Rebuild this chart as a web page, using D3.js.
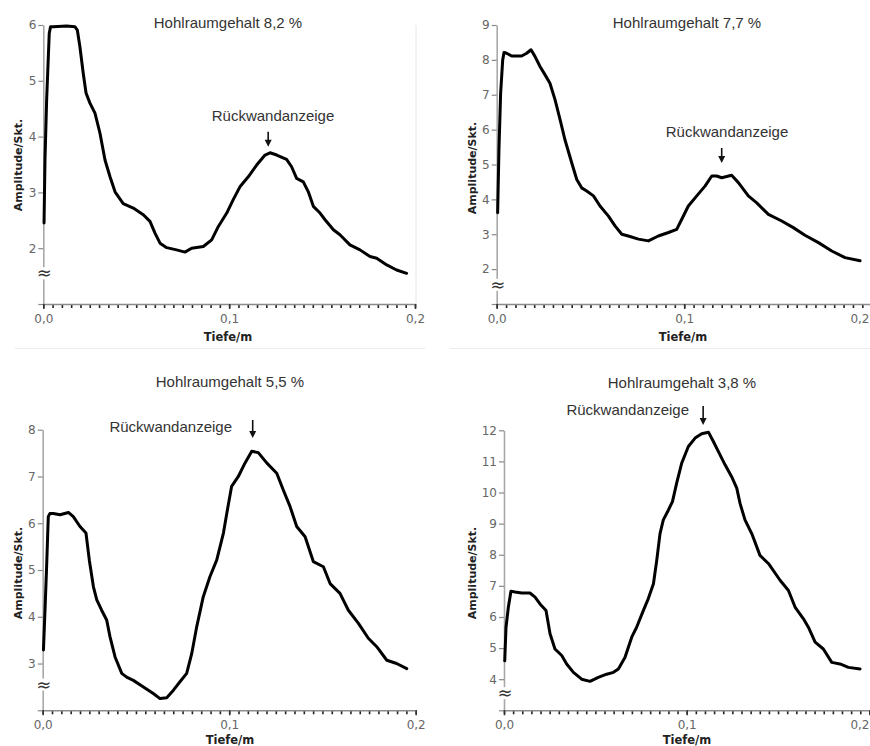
<!DOCTYPE html>
<html>
<head>
<meta charset="utf-8">
<script src="https://cdn.jsdelivr.net/npm/d3@7"></script>
<style>
  body { margin: 0; background: #fff; }
  svg { display: block; }
</style>
</head>
<body>
<script>
var depth1 = [0.0004, 0.0009, 0.0018, 0.0032, 0.0039, 0.0054, 0.0126, 0.0170, 0.0183, 0.0197, 0.0215, 0.0230, 0.0251, 0.0278, 0.0305, 0.0332, 0.0359, 0.0386, 0.0430, 0.0484, 0.0538, 0.0574, 0.0601, 0.0628, 0.0664, 0.0717, 0.0762, 0.0798, 0.0861, 0.0906, 0.0942, 0.0987, 0.1022, 0.1058, 0.1103, 0.1148, 0.1193, 0.1220, 0.1256, 0.1309, 0.1336, 0.1363, 0.1399, 0.1426, 0.1453, 0.1489, 0.1516, 0.1561, 0.1596, 0.1650, 0.1704, 0.1758, 0.1794, 0.1848, 0.1901, 0.1955]
var amp1 = [2.45, 3.58, 4.66, 5.85, 5.97, 5.97, 5.98, 5.97, 5.91, 5.61, 5.13, 4.78, 4.60, 4.42, 4.06, 3.58, 3.28, 3.01, 2.80, 2.72, 2.60, 2.48, 2.27, 2.09, 2.01, 1.97, 1.93, 2.00, 2.03, 2.15, 2.39, 2.63, 2.87, 3.10, 3.28, 3.49, 3.67, 3.71, 3.67, 3.59, 3.46, 3.25, 3.19, 3.01, 2.75, 2.63, 2.51, 2.33, 2.24, 2.06, 1.97, 1.85, 1.82, 1.70, 1.61, 1.55]

var depth2 = [0.0005, 0.0012, 0.0021, 0.0032, 0.0039, 0.0053, 0.0080, 0.0133, 0.0160, 0.0183, 0.0204, 0.0231, 0.0258, 0.0284, 0.0311, 0.0338, 0.0364, 0.0400, 0.0427, 0.0453, 0.0480, 0.0516, 0.0551, 0.0596, 0.0631, 0.0667, 0.0702, 0.0756, 0.0809, 0.0862, 0.0916, 0.0960, 0.0987, 0.1022, 0.1067, 0.1111, 0.1147, 0.1173, 0.1200, 0.1253, 0.1289, 0.1342, 0.1387, 0.1449, 0.1520, 0.1582, 0.1644, 0.1716, 0.1787, 0.1858, 0.1938]
var amp2 = [3.62, 5.43, 7.05, 8.00, 8.21, 8.19, 8.11, 8.11, 8.19, 8.29, 8.10, 7.81, 7.57, 7.33, 6.86, 6.29, 5.71, 5.05, 4.57, 4.33, 4.24, 4.10, 3.81, 3.52, 3.24, 3.00, 2.95, 2.86, 2.81, 2.95, 3.05, 3.14, 3.43, 3.81, 4.10, 4.38, 4.67, 4.67, 4.62, 4.69, 4.48, 4.10, 3.90, 3.57, 3.38, 3.19, 2.97, 2.76, 2.52, 2.33, 2.24]

var depth3 = [0.0004, 0.0013, 0.0021, 0.0030, 0.0039, 0.0057, 0.0093, 0.0138, 0.0164, 0.0200, 0.0232, 0.0250, 0.0272, 0.0290, 0.0316, 0.0343, 0.0361, 0.0388, 0.0424, 0.0450, 0.0486, 0.0540, 0.0593, 0.0629, 0.0665, 0.0701, 0.0736, 0.0772, 0.0799, 0.0826, 0.0861, 0.0897, 0.0933, 0.0969, 0.0987, 0.1013, 0.1049, 0.1085, 0.1121, 0.1156, 0.1201, 0.1255, 0.1290, 0.1326, 0.1362, 0.1407, 0.1451, 0.1505, 0.1541, 0.1594, 0.1639, 0.1693, 0.1746, 0.1791, 0.1845, 0.1898, 0.1952]
var amp3 = [3.29, 4.21, 5.07, 6.14, 6.21, 6.21, 6.18, 6.23, 6.14, 5.93, 5.79, 5.21, 4.64, 4.36, 4.14, 3.93, 3.57, 3.14, 2.79, 2.71, 2.64, 2.50, 2.36, 2.25, 2.27, 2.43, 2.61, 2.79, 3.21, 3.79, 4.43, 4.86, 5.21, 5.79, 6.21, 6.79, 7.00, 7.29, 7.54, 7.51, 7.29, 7.07, 6.71, 6.36, 5.93, 5.71, 5.18, 5.07, 4.71, 4.50, 4.14, 3.86, 3.54, 3.36, 3.07, 3.00, 2.89]

var depth4 = [0.0004, 0.0011, 0.0024, 0.0038, 0.0060, 0.0097, 0.0142, 0.0170, 0.0197, 0.0230, 0.0252, 0.0279, 0.0316, 0.0343, 0.0380, 0.0425, 0.0471, 0.0516, 0.0562, 0.0599, 0.0626, 0.0662, 0.0699, 0.0726, 0.0763, 0.0790, 0.0818, 0.0836, 0.0854, 0.0872, 0.0900, 0.0922, 0.0945, 0.0973, 0.1009, 0.1046, 0.1082, 0.1119, 0.1146, 0.1173, 0.1210, 0.1246, 0.1274, 0.1292, 0.1319, 0.1356, 0.1401, 0.1447, 0.1511, 0.1557, 0.1593, 0.1639, 0.1666, 0.1703, 0.1748, 0.1794, 0.1839, 0.1885, 0.1949]
var amp4 = [4.59, 5.67, 6.32, 6.83, 6.80, 6.77, 6.77, 6.64, 6.42, 6.21, 5.46, 4.97, 4.76, 4.49, 4.22, 4.00, 3.93, 4.06, 4.16, 4.22, 4.33, 4.70, 5.35, 5.67, 6.21, 6.59, 7.07, 7.82, 8.68, 9.12, 9.44, 9.71, 10.30, 10.95, 11.48, 11.75, 11.89, 11.94, 11.64, 11.32, 10.89, 10.51, 10.14, 9.65, 9.12, 8.68, 7.98, 7.72, 7.18, 6.85, 6.32, 5.94, 5.67, 5.19, 4.97, 4.54, 4.49, 4.38, 4.33]

var titles = ["Hohlraumgehalt 8,2 %", "Hohlraumgehalt 7,7 %", "Hohlraumgehalt 5,5 %", "Hohlraumgehalt 3,8 %"]
var yDomains = [[1, 6], [1, 9], [2, 8], [3, 12]]
var xTicks = [0, 0.1, 0.2]
var arrowDepth = [0.121, 0.120, 0.1126, 0.109]
var peakLabel = "Rückwandanzeige"
var xLabel = "Tiefe/m"
var yLabel = "Amplitude/Skt."

var series = [
  { depth: depth1, amp: amp1 },
  { depth: depth2, amp: amp2 },
  { depth: depth3, amp: amp3 },
  { depth: depth4, amp: amp4 }
]

// Lage der Teilbilder (Pixel)
var layout = [
  { x0: 43.3, x1: 415.0, yb: 304, yt: 25, title: [228, 27.7], note: [273, 120.7, "middle"], arrow: [131.7, 146.7], yLab: [22, 165], xLab: [228, 341] },
  { x0: 496.7, x1: 871.7, yb: 304, yt: 25, title: [687, 28], note: [727, 137, "middle"], arrow: [148, 163], yLab: [476, 168], xLab: [683, 341] },
  { x0: 42.7, x1: 415.7, yb: 710.3, yt: 429.7, title: [230, 387], note: [232, 432, "end"], arrow: [420, 438], yLab: [22, 573], xLab: [230, 744] },
  { x0: 504, x1: 869.4, yb: 710.3, yt: 430.3, title: [682, 387.5], note: [689, 415, "end"], arrow: [406, 425], yLab: [476, 573], xLab: [687, 744] }
]

var width = 870
var height = 746

var de = d3.formatLocale({ decimal: ",", thousands: ".", grouping: [3], currency: ["", " €"] })
var fmtX = de.format(".1f")

var svg = d3.select("body").append("svg")
  .attr("width", width)
  .attr("height", height)
  .style("font-family", "'DejaVu Sans', Verdana, sans-serif")

// feine Trennlinien wie im Scan
svg.append("line").attr("x1", 15).attr("x2", 425).attr("y1", 348.5).attr("y2", 348.5)
  .attr("stroke", "#ececec").attr("stroke-width", 1)
svg.append("line").attr("x1", 450).attr("x2", 870).attr("y1", 348.5).attr("y2", 348.5)
  .attr("stroke", "#ececec").attr("stroke-width", 1)

series.forEach(function (s, i) {
  var L = layout[i]
  var dom = yDomains[i]
  var g = svg.append("g")

  var x = d3.scaleLinear().domain([0, 0.2]).range([L.x0, L.x1])
  var y = d3.scaleLinear().domain(dom).range([L.yb, L.yt])

  if (i === 0) {
    g.append("line").attr("x1", L.x1 + 1).attr("x2", L.x1 + 1).attr("y1", L.yt).attr("y2", L.yb)
      .attr("stroke", "#e6e6e6")
  }

  // y-Achse
  var yTicks = d3.range(dom[0], dom[1] + 1)
  var yAxis = d3.axisLeft(y)
    .tickValues(yTicks)
    .tickSize(5)
    .tickPadding(2)
    .tickSizeOuter(0)
    .tickFormat(function (d) { return d === dom[0] ? "" : d })
  var ya = g.append("g").attr("transform", "translate(" + L.x0 + ",0)").call(yAxis)
  ya.select(".domain").attr("stroke", "#a8a8a8").attr("stroke-width", 1.6)
  ya.selectAll(".tick line").attr("stroke", "#8a8a8a").attr("stroke-width", 1.2)
  ya.selectAll(".tick text").attr("fill", "#666").style("font-size", "12px")
    .style("font-family", "'DejaVu Sans', Verdana, sans-serif")

  // x-Achse: Nebenstriche alle 0,005 m
  var minor = d3.range(0, 41).map(function (k) { return Math.round(k * 5) / 1000 })
  var xm = g.append("g").attr("class", "minor").attr("transform", "translate(0," + L.yb + ")")
    .call(d3.axisBottom(x).tickValues(minor).tickSize(4).tickSizeOuter(0).tickFormat(function () { return "" }))
  xm.select(".domain").remove()
  xm.selectAll(".tick line").attr("stroke", "#222").attr("stroke-width", 1.6)

  var xa = g.append("g").attr("transform", "translate(0," + L.yb + ")")
    .call(d3.axisBottom(x).tickValues(xTicks).tickSize(5).tickPadding(5).tickSizeOuter(0).tickFormat(fmtX))
  xa.select(".domain").attr("stroke", "#8c8c8c").attr("stroke-width", 1.6)
  xa.selectAll(".tick line").attr("stroke", "#333").attr("stroke-width", 1.5)
  xa.selectAll(".tick text").attr("fill", "#666").style("font-size", "12px")
    .style("font-family", "'DejaVu Sans', Verdana, sans-serif")
    .attr("text-anchor", function (d) { return x(d) + 12 > width ? "end" : "middle" })
    .attr("dx", function (d) { return x(d) + 12 > width ? width - 1 - x(d) : 0 })

  // Achsenbruch
  var yb = y(dom[0] + 0.55)
  g.append("rect").attr("x", L.x0 - 6).attr("y", yb - 6).attr("width", 12).attr("height", 12).attr("fill", "#fff")
  g.append("text").attr("x", L.x0 + 1).attr("y", yb + 6)
    .attr("text-anchor", "middle").attr("fill", "#333")
    .style("font-size", "18px").style("font-family", "'DejaVu Sans', sans-serif")
    .text("≈")

  // Kurve
  var pts = d3.zip(s.depth, s.amp)
  var line = d3.line().x(function (d) { return x(d[0]) }).y(function (d) { return y(d[1]) })
  g.append("path").datum(pts)
    .attr("d", line)
    .attr("fill", "none")
    .attr("stroke", "#000")
    .attr("stroke-width", 3)
    .attr("stroke-linejoin", "round")
    .attr("stroke-linecap", "round")

  // Titel
  g.append("text").attr("x", L.title[0]).attr("y", L.title[1])
    .attr("text-anchor", "middle").attr("fill", "#333")
    .style("font-family", "'Liberation Sans', Arial, sans-serif").style("font-size", "15px")
    .text(titles[i])

  // Rückwandanzeige mit Pfeil
  g.append("text").attr("x", L.note[0]).attr("y", L.note[1])
    .attr("text-anchor", L.note[2]).attr("fill", "#333")
    .style("font-family", "'Liberation Sans', Arial, sans-serif").style("font-size", "15px")
    .text(peakLabel)
  var ax = x(arrowDepth[i])
  g.append("line").attr("x1", ax).attr("x2", ax).attr("y1", L.arrow[0]).attr("y2", L.arrow[1] - 6)
    .attr("stroke", "#111").attr("stroke-width", 1.6)
  g.append("path")
    .attr("d", "M" + (ax - 3.5) + "," + (L.arrow[1] - 7) + "L" + (ax + 3.5) + "," + (L.arrow[1] - 7) + "L" + ax + "," + L.arrow[1] + "Z")
    .attr("fill", "#111")

  // Achsentitel
  g.append("text")
    .attr("transform", "translate(" + L.yLab[0] + "," + L.yLab[1] + ") rotate(-90)")
    .attr("text-anchor", "middle").attr("fill", "#222")
    .style("font-weight", "bold").style("font-size", "11px")
    .text(yLabel)
  g.append("text").attr("x", L.xLab[0]).attr("y", L.xLab[1])
    .attr("text-anchor", "middle").attr("fill", "#222")
    .style("font-weight", "bold").style("font-size", "11.5px")
    .text(xLabel)
})
</script>
</body>
</html>
